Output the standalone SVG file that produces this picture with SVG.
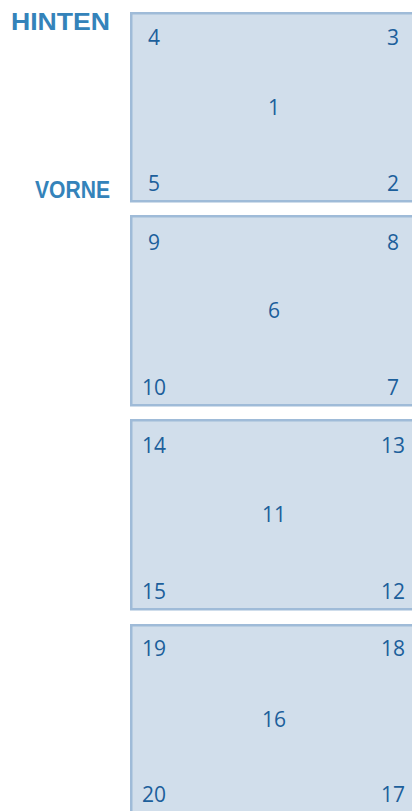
<svg xmlns="http://www.w3.org/2000/svg" width="412" height="811" viewBox="0 0 412 811">
<style>
.box{fill:#d1deeb;stroke:#9fbbd8;stroke-width:2.5}
.n{font-family:"Open Sans","Noto Sans","Liberation Sans",sans-serif;font-size:21px;fill:#1c5f9b;text-anchor:middle}
.h{font-family:"Liberation Sans","Arial",sans-serif;font-weight:bold;font-size:23px;fill:#3483ba}
</style>
<rect width="412" height="811" fill="#ffffff"/>
<g id="labels">
<text class="h" x="11" y="30" textLength="99" lengthAdjust="spacingAndGlyphs">HINTEN</text>
<text class="h" x="35" y="198" textLength="75" lengthAdjust="spacingAndGlyphs">VORNE</text>
</g>
<g id="connectors"></g>
<g id="box1">
<rect class="box" x="131.25" y="13.25" width="300" height="188"/>
<text class="n" x="154" y="45">4</text>
<text class="n" x="393" y="45">3</text>
<text class="n" x="274" y="115">1</text>
<text class="n" x="154" y="191">5</text>
<text class="n" x="393" y="191">2</text>
</g>
<g id="box2">
<rect class="box" x="131.25" y="216.25" width="300" height="189"/>
<text class="n" x="154" y="250">9</text>
<text class="n" x="393" y="250">8</text>
<text class="n" x="274" y="318">6</text>
<text class="n" x="154" y="395">10</text>
<text class="n" x="393" y="395">7</text>
</g>
<g id="box3">
<rect class="box" x="131.25" y="420.25" width="300" height="189"/>
<text class="n" x="154" y="453">14</text>
<text class="n" x="393" y="453">13</text>
<text class="n" x="274" y="522">11</text>
<text class="n" x="154" y="599">15</text>
<text class="n" x="393" y="599">12</text>
</g>
<g id="box4">
<rect class="box" x="131.25" y="625.25" width="300" height="200"/>
<text class="n" x="154" y="656">19</text>
<text class="n" x="393" y="656">18</text>
<text class="n" x="274" y="727">16</text>
<text class="n" x="154" y="802">20</text>
<text class="n" x="393" y="802">17</text>
</g>
</svg>
